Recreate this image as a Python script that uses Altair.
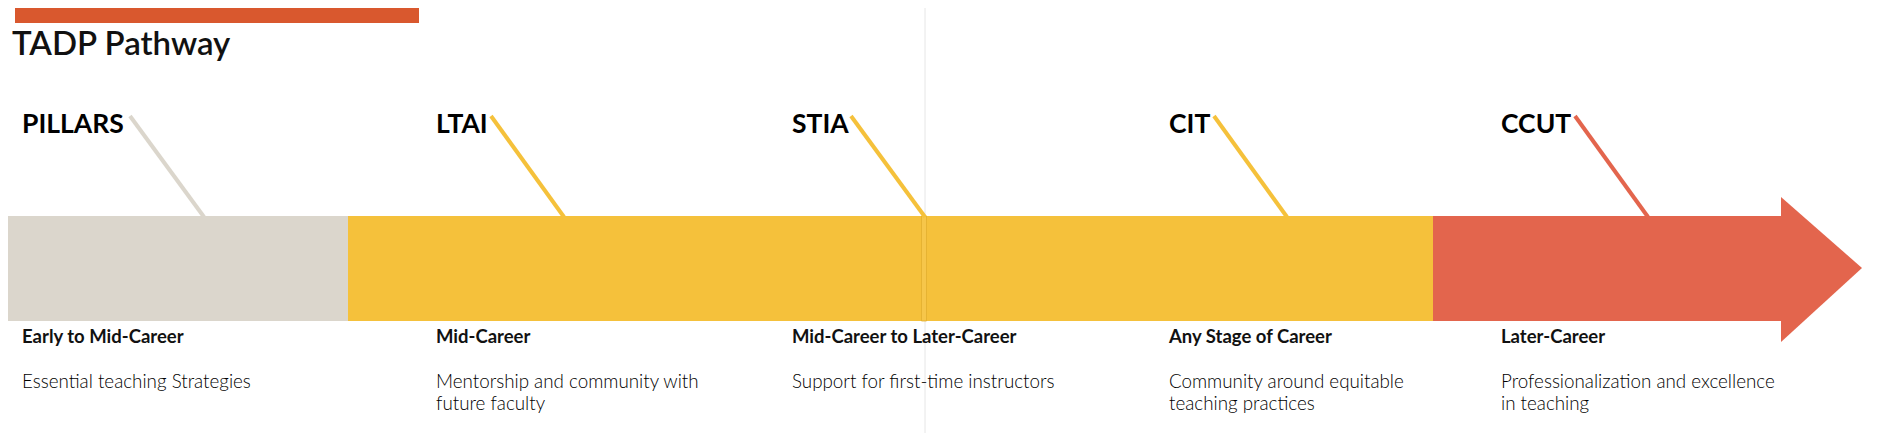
import altair as alt
import pandas as pd

# ---- data ----
programs = ["PILLARS", "LTAI", "STIA", "CIT", "CCUT"]
program_x = [22, 436, 792, 1169, 1501]
stages = ["Early to Mid-Career", "Mid-Career", "Mid-Career to Later-Career",
          "Any Stage of Career", "Later-Career"]
desc_line1 = ["Essential teaching Strategies", "Mentorship and community with",
              "Support for first-time instructors", "Community around equitable",
              "Professionalization and excellence"]
desc_line2 = ["", "future faculty", "", "teaching practices", "in teaching"]
leader_top_x = [130, 491, 851, 1214, 1575]
leader_bot_x = [204, 564, 925, 1287, 1648]
leader_colors = ["#DBD6CC", "#F5C13B", "#F5C13B", "#F5C13B", "#E3654D"]

seg_start = [0, 348, 924, 1433]
seg_end = [348, 924, 1433, 1782]
seg_colors = ["#DBD6CC", "#F5C13B", "#F5C13B", "#E3654D"]

arrow_x = [1781, 1862]
arrow_top = [197, 268]
arrow_bot = [342, 268]

title_text = "TADP Pathway"

# ---- scales (page-pixel units) ----
W, H = 1870, 425
xs = alt.Scale(domain=[8, 8 + W], nice=False, zero=False)
ys = alt.Scale(domain=[8, 8 + H], nice=False, zero=False, reverse=True)
X = lambda f: alt.X(f, type="quantitative", scale=xs, axis=None)
Y = lambda f: alt.Y(f, type="quantitative", scale=ys, axis=None)

segs = pd.DataFrame({"x": seg_start, "x2": seg_end, "c": seg_colors,
                     "y": [216] * 4, "y2": [321] * 4})
bars = alt.Chart(segs).mark_rect().encode(
    x=X("x"), x2="x2", y=Y("y"), y2="y2",
    color=alt.Color("c:N", scale=None))

seam_box = alt.Chart(pd.DataFrame({"x": [921.5], "x2": [926.5], "y": [216], "y2": [321]})).mark_rect(
    fill="#F6C64A", stroke="#E2AE2E", strokeWidth=0.8).encode(
    x=X("x"), x2="x2", y=Y("y"), y2="y2")

head = alt.Chart(pd.DataFrame({"x": arrow_x, "y": arrow_top, "y2": arrow_bot})).mark_area(
    color="#E3654D").encode(x=X("x"), y=Y("y"), y2="y2")

topbar = alt.Chart(pd.DataFrame({"x": [15], "x2": [419], "y": [0], "y2": [23]})).mark_rect(
    color="#D9582E").encode(x=X("x"), x2="x2", y=Y("y"), y2="y2")

seam = alt.Chart(pd.DataFrame({"x": [925], "y": [0], "y2": [441]})).mark_rule(
    color="#e6e6e6", strokeWidth=1).encode(x=X("x"), y=Y("y"), y2="y2")

leaders = alt.Chart(pd.DataFrame({"x": leader_top_x, "x2": leader_bot_x,
                                   "y": [116] * 5, "y2": [217] * 5, "c": leader_colors})).mark_rule(
    strokeWidth=4, strokeCap="butt").encode(
    x=X("x"), x2="x2", y=Y("y"), y2="y2", color=alt.Color("c:N", scale=None))

title = alt.Chart(pd.DataFrame({"x": [12], "y": [55], "t": [title_text]})).mark_text(
    align="left", baseline="alphabetic", font="Lato", fontSize=33, fontWeight=600,
    color="#111111").encode(x=X("x"), y=Y("y"), text="t:N")

prog = alt.Chart(pd.DataFrame({"x": program_x, "y": [133] * 5, "t": programs})).mark_text(
    align="left", baseline="alphabetic", font="Lato", fontSize=26.5, fontWeight="bold",
    color="#000000").encode(x=X("x"), y=Y("y"), text="t:N")

stage = alt.Chart(pd.DataFrame({"x": program_x, "y": [343] * 5, "t": stages})).mark_text(
    align="left", baseline="alphabetic", font="Lato", fontSize=18.5, fontWeight="bold",
    color="#111111").encode(x=X("x"), y=Y("y"), text="t:N")

d1 = alt.Chart(pd.DataFrame({"x": program_x, "y": [388] * 5, "t": desc_line1})).mark_text(
    align="left", baseline="alphabetic", font="Lato", fontSize=18.8, fontWeight=300,
    color="#000000").encode(x=X("x"), y=Y("y"), text="t:N")

d2 = alt.Chart(pd.DataFrame({"x": program_x, "y": [410] * 5, "t": desc_line2})).mark_text(
    align="left", baseline="alphabetic", font="Lato", fontSize=18.8, fontWeight=300,
    color="#000000").encode(x=X("x"), y=Y("y"), text="t:N")

chart = alt.layer(seam, topbar, bars, head, seam_box, leaders, title, prog, stage, d1, d2).properties(
    width=W, height=H, padding=0, autosize=alt.AutoSizeParams(type="none"),
    background="white"
).configure_view(stroke=None)

chart.save("out.html", embed_options={"renderer": "svg", "actions": False})
